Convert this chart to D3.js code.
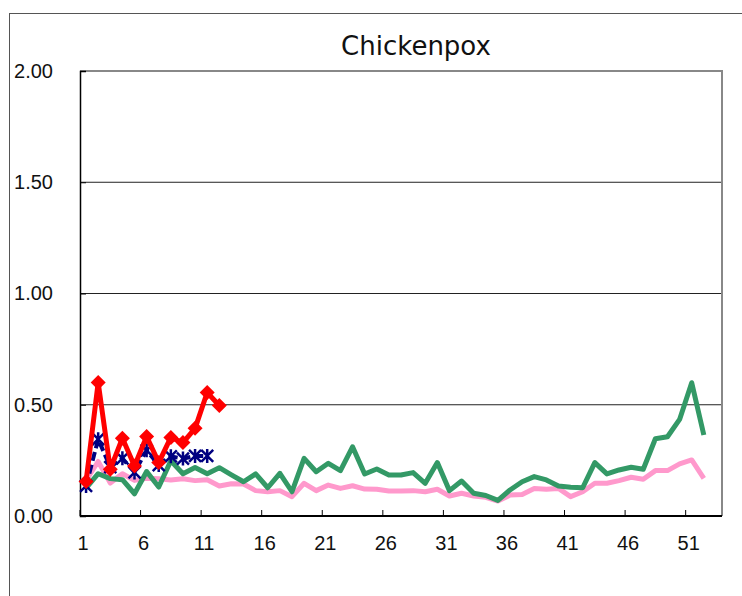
<!DOCTYPE html>
<html>
<head>
<meta charset="utf-8">
<script src="https://cdn.jsdelivr.net/npm/d3@7"></script>
<style>
  html, body { margin: 0; padding: 0; background: #fff; }
  svg { display: block; }
  text { font-family: "Liberation Sans", Arial, sans-serif; fill: #111; }
</style>
</head>
<body>
<svg id="chart" width="742" height="596"></svg>
<script>
// weeks on the category axis
const weeks = d3.range(1, 54);
const weekLabels = [1, 6, 11, 16, 21, 26, 31, 36, 41, 46, 51];
const yTicks = [0, 0.5, 1, 1.5, 2];

// green line, weeks 1-52
const seriesGreen = [0.125, 0.19, 0.168, 0.163, 0.1, 0.2, 0.13, 0.248, 0.19, 0.218,
  0.19, 0.217, 0.185, 0.154, 0.189, 0.127, 0.192, 0.109, 0.259, 0.199,
  0.237, 0.204, 0.311, 0.189, 0.211, 0.184, 0.184, 0.195, 0.147, 0.24,
  0.114, 0.157, 0.102, 0.092, 0.07, 0.117, 0.154, 0.177, 0.162, 0.135,
  0.129, 0.127, 0.24, 0.189, 0.207, 0.219, 0.21, 0.347, 0.356, 0.434,
  0.599, 0.364];
// pink line, weeks 1-52
const seriesPink = [0.16, 0.245, 0.148, 0.19, 0.16, 0.17, 0.167, 0.162, 0.167, 0.159,
  0.163, 0.135, 0.145, 0.144, 0.114, 0.109, 0.114, 0.087, 0.147, 0.114,
  0.139, 0.124, 0.136, 0.121, 0.12, 0.112, 0.112, 0.114, 0.109, 0.12,
  0.09, 0.102, 0.09, 0.084, 0.067, 0.094, 0.097, 0.124, 0.12, 0.124,
  0.087, 0.109, 0.147, 0.147, 0.159, 0.174, 0.165, 0.204, 0.204, 0.234,
  0.252, 0.169];
// navy dashed line with asterisks
const seriesNavy = [0.135, 0.345, 0.22, 0.259, 0.196, 0.295, 0.229, 0.268, 0.258, 0.27, 0.27];
// red line with diamonds
const seriesRed = [0.155, 0.6, 0.21, 0.35, 0.225, 0.357, 0.24, 0.353, 0.33, 0.394, 0.555, 0.497];

const svg = d3.select('#chart');
const plotL = 80, plotR = 722, plotT = 71, plotB = 516;

// outer chart frame (runs off the picture on the right and bottom)
svg.append('rect')
  .attr('x', 9.5).attr('y', 13.5)
  .attr('width', 800).attr('height', 640)
  .attr('fill', 'none').attr('stroke', '#555').attr('stroke-width', 1);

svg.append('text')
  .attr('x', 416).attr('y', 55)
  .attr('text-anchor', 'middle')
  .style('font-family', '"DejaVu Sans", sans-serif')
  .style('font-size', '26px')
  .text('Chickenpox');

const x = d3.scaleBand().domain(weeks).range([plotL, plotR]);
const y = d3.scaleLinear().domain([0, 2]).range([plotB, plotT]);
const cx = w => x(w) + x.bandwidth() / 2;

// gridlines
svg.append('g')
  .selectAll('line')
  .data(yTicks.filter(d => d > 0 && d < 2))
  .join('line')
  .attr('x1', plotL).attr('x2', plotR)
  .attr('y1', d => y(d)).attr('y2', d => y(d))
  .attr('stroke', '#222').attr('stroke-width', 1);

// top and right border of the plot area
svg.append('path')
  .attr('d', `M${plotL},${y(2)}H${plotR}V${plotB}`)
  .attr('fill', 'none').attr('stroke', '#888').attr('stroke-width', 2);

// y axis
const yAxis = svg.append('g')
  .attr('transform', `translate(${plotL},0)`)
  .call(d3.axisLeft(y).tickValues(yTicks).tickFormat(d3.format('.2f'))
    .tickSize(-6).tickPadding(27));
yAxis.select('.domain').attr('stroke', '#000').attr('stroke-width', 1.5);
yAxis.selectAll('.tick line').attr('stroke', '#000');
yAxis.selectAll('text').style('font-size', '20px').attr('fill', '#111');

// x axis
svg.append('line')
  .attr('x1', plotL).attr('x2', plotR)
  .attr('y1', plotB).attr('y2', plotB)
  .attr('stroke', '#000').attr('stroke-width', 2);
svg.append('g')
  .selectAll('line')
  .data(weekLabels)
  .join('line')
  .attr('x1', d => x(d)).attr('x2', d => x(d))
  .attr('y1', plotB).attr('y2', plotB - 6)
  .attr('stroke', '#000').attr('stroke-width', 1);
svg.append('g')
  .selectAll('text')
  .data(weekLabels)
  .join('text')
  .attr('x', d => x(d) + 3)
  .attr('y', 550)
  .attr('text-anchor', 'middle')
  .style('font-size', '20px')
  .text(d => d);

const line = d3.line()
  .x((d, i) => cx(weeks[i]))
  .y(d => y(d));

svg.append('path')
  .attr('d', line(seriesPink))
  .attr('fill', 'none').attr('stroke', '#ff99cc')
  .attr('stroke-width', 5).attr('stroke-linejoin', 'round');

svg.append('path')
  .attr('d', line(seriesGreen))
  .attr('fill', 'none').attr('stroke', '#339966')
  .attr('stroke-width', 5).attr('stroke-linejoin', 'round');

svg.append('path')
  .attr('d', line(seriesNavy))
  .attr('fill', 'none').attr('stroke', '#000080')
  .attr('stroke-width', 4).attr('stroke-dasharray', '9,4');

// asterisk markers
const star = 'M-6,-6L6,6M-6,6L6,-6M0,-7V7';
svg.append('g')
  .selectAll('path')
  .data(seriesNavy)
  .join('path')
  .attr('transform', (d, i) => `translate(${cx(weeks[i])},${y(d)})`)
  .attr('d', star)
  .attr('fill', 'none').attr('stroke', '#000080').attr('stroke-width', 2.5);

svg.append('path')
  .attr('d', line(seriesRed))
  .attr('fill', 'none').attr('stroke', '#ff0000')
  .attr('stroke-width', 5).attr('stroke-linejoin', 'round');

svg.append('g')
  .selectAll('path')
  .data(seriesRed)
  .join('path')
  .attr('transform', (d, i) => `translate(${cx(weeks[i])},${y(d)})`)
  .attr('d', 'M0,-7.5L7.5,0L0,7.5L-7.5,0Z')
  .attr('fill', '#ff0000');
</script>
</body>
</html>
